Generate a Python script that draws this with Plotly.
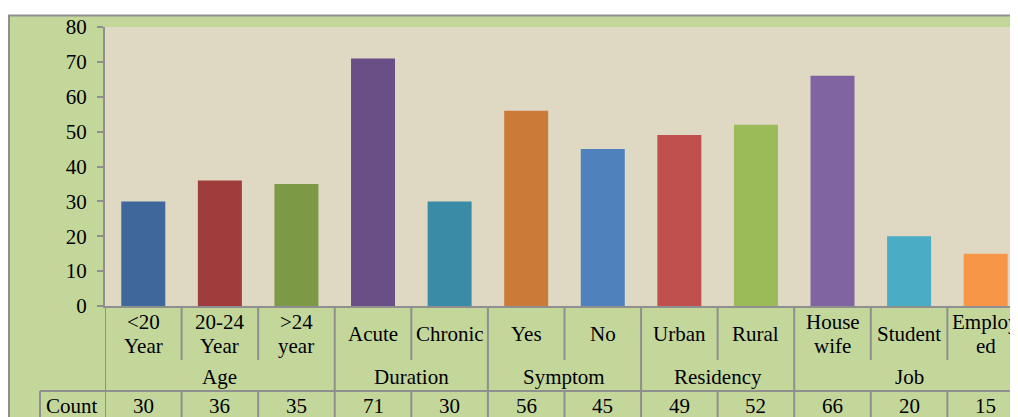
import plotly.graph_objects as go

categories = ["<20\nYear", "20-24\nYear", ">24\nyear", "Acute", "Chronic", "Yes", "No",
              "Urban", "Rural", "House\nwife", "Student", "Employ\ned"]
counts = [30, 36, 35, 71, 30, 56, 45, 49, 52, 66, 20, 15]
groups = ["Age", "Duration", "Symptom", "Residency", "Job"]
group_sizes = [3, 2, 2, 2, 3]
bar_colors = ["#3F679C", "#9E3D3C", "#7C9946", "#6A4F87", "#3A8CA6", "#CC7A37", "#4F81BD",
              "#C0504D", "#9BBB59", "#8064A2", "#4BACC6", "#F79646"]
y_ticks = [0, 10, 20, 30, 40, 50, 60, 70, 80]

FONT = "Liberation Serif, Times New Roman, serif"
FS = 21
GRID = "#8F8F8F"
OFF = 8                      # page body margin
W, H = 1018 - OFF, 417 - OFF
ML, MT = 105 - OFF, 27 - OFF
PLOT_BOTTOM = 306            # reference pixel of zero line
MB = H - (PLOT_BOTTOM - OFF)
PW, PH = W - ML, H - MT - MB
COL = 76.58

def py(pix):  # reference pixel y -> paper y
    return (PLOT_BOTTOM - pix) / PH

def px(pix):  # reference pixel x -> paper x
    return (pix - 105) / PW

cat_keys = [c.replace("\n", " ") for c in categories]

fig = go.Figure()
fig.add_trace(go.Bar(x=cat_keys, y=counts, marker_color=bar_colors, marker_line_width=0,
                     hovertext=cat_keys, showlegend=False))

shapes = []
shapes.append(dict(type="rect", xref="paper", yref="paper", x0=px(9), x1=1.1, y0=-0.6, y1=py(15.5),
                   fillcolor="#C4D79B", line=dict(color=GRID, width=2), layer="below"))
shapes.append(dict(type="rect", xref="paper", yref="paper", x0=0, x1=1.05, y0=0, y1=1,
                   fillcolor="#DFD9C4", line=dict(width=0), layer="below"))

bottom = -0.6
shapes.append(dict(type="line", xref="x", yref="paper", x0=-0.5, x1=-0.5, y0=0, y1=bottom,
                   line=dict(color=GRID, width=2)))
shapes.append(dict(type="line", xref="paper", yref="paper", x0=px(40), x1=1.1, y0=py(391), y1=py(391),
                   line=dict(color=GRID, width=2)))
shapes.append(dict(type="line", xref="paper", yref="paper", x0=px(40), x1=px(40), y0=py(391), y1=bottom,
                   line=dict(color=GRID, width=2)))

ends = []
s = 0
for g in group_sizes:
    s += g
    ends.append(s)
group_bounds = set(e - 0.5 for e in ends)
for i in range(1, len(categories) + 1):
    b = i - 0.5
    if b in group_bounds:
        shapes.append(dict(type="line", xref="x", yref="paper", x0=b, x1=b, y0=0, y1=bottom,
                           line=dict(color=GRID, width=2)))
    else:
        shapes.append(dict(type="line", xref="x", yref="paper", x0=b, x1=b, y0=0, y1=py(360),
                           line=dict(color=GRID, width=2)))
        shapes.append(dict(type="line", xref="x", yref="paper", x0=b, x1=b, y0=py(391), y1=bottom,
                           line=dict(color=GRID, width=2)))

tf = dict(family=FONT, size=FS, color="black")
annotations = []
for i, c in enumerate(categories):
    lines = c.split("\n")
    ys = [py(334)] if len(lines) == 1 else [py(322), py(346)]
    for t, yy in zip(lines, ys):
        annotations.append(dict(x=i, y=yy, xref="x", yref="paper", text=t, showarrow=False,
                                xanchor="center", yanchor="middle", font=tf))
    annotations.append(dict(x=i, y=py(406), xref="x", yref="paper", text=str(counts[i]), showarrow=False,
                            xanchor="center", yanchor="middle", font=tf))
start = 0
for g, n in zip(groups, group_sizes):
    annotations.append(dict(x=start + (n - 1) / 2, y=py(377), xref="x", yref="paper", text=g,
                            showarrow=False, xanchor="center", yanchor="middle", font=tf))
    start += n
annotations.append(dict(x=px(72), y=py(406), xref="paper", yref="paper", text="Count", showarrow=False,
                        xanchor="center", yanchor="middle", font=tf))

fig.update_layout(
    width=W, height=H,
    margin=dict(l=ML, r=0, t=MT, b=MB, pad=0),
    paper_bgcolor="white",
    plot_bgcolor="rgba(0,0,0,0)",
    bargap=1 - 44 / COL,
    shapes=shapes,
    annotations=annotations,
    showlegend=False,
    xaxis=dict(type="category", range=[-0.5, -0.5 + PW / COL],
               showticklabels=False, ticks="",
               showgrid=False, zeroline=False, showline=True, linecolor=GRID, linewidth=2),
    yaxis=dict(range=[0, 80], tickvals=y_ticks, showgrid=False, zeroline=False, showline=True,
               linecolor=GRID, linewidth=2, ticks="outside", ticklen=6, tickwidth=2, tickcolor=GRID,
               ticklabelstandoff=6, tickfont=tf),
)

fig.write_html("out.html", post_script="document.body.style.overflow='hidden';")
